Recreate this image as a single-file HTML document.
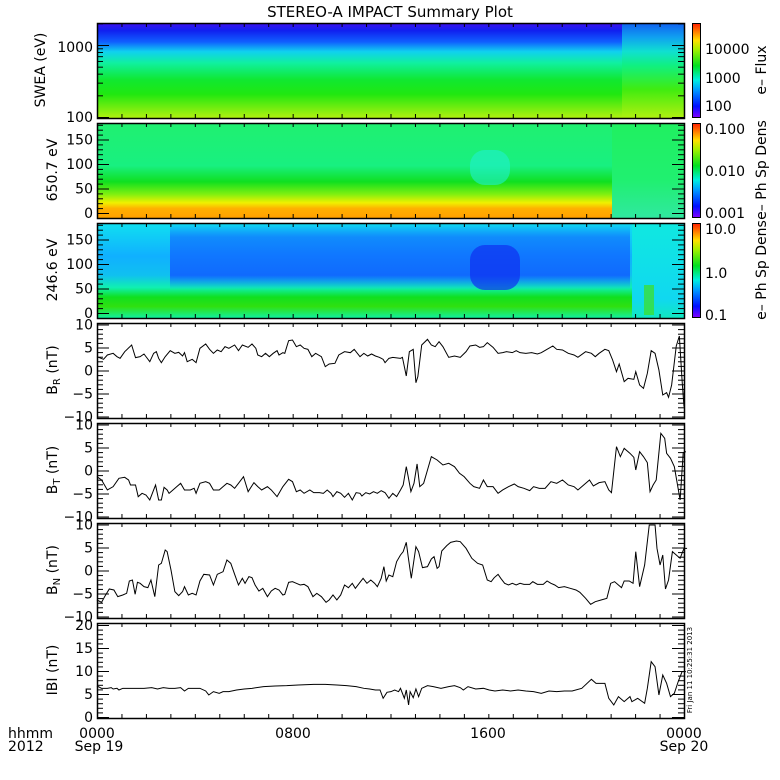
<!DOCTYPE html>
<html><head><meta charset="utf-8"><style>
body{margin:0;background:#fff}
svg{display:block}
text{font-family:"DejaVu Sans","Liberation Sans",sans-serif;font-size:14px;fill:#000}
</style></head><body>
<svg id="s" width="780" height="780" xmlns="http://www.w3.org/2000/svg">
<defs>
<linearGradient id="cb" x1="0" y1="1" x2="0" y2="0">
<stop offset="0" stop-color="#8000ff"/><stop offset="0.12" stop-color="#0010ff"/><stop offset="0.3" stop-color="#00a0ff"/><stop offset="0.4" stop-color="#00f0e0"/><stop offset="0.55" stop-color="#00e020"/><stop offset="0.72" stop-color="#a0f000"/><stop offset="0.82" stop-color="#ffe000"/><stop offset="1" stop-color="#ff2000"/>
</linearGradient>
<linearGradient id="g1" x1="0" y1="0" x2="0" y2="1">
<stop offset="0" stop-color="#4010f0"/><stop offset="0.08" stop-color="#1020f0"/><stop offset="0.2" stop-color="#1060ff"/><stop offset="0.3" stop-color="#10d0f0"/><stop offset="0.42" stop-color="#10f0a0"/><stop offset="0.6" stop-color="#10e830"/><stop offset="0.75" stop-color="#20e810"/><stop offset="1" stop-color="#b0f010"/>
</linearGradient>
<linearGradient id="g1r" x1="0" y1="0" x2="0" y2="1">
<stop offset="0" stop-color="#1060f0"/><stop offset="0.15" stop-color="#10a0f0"/><stop offset="0.3" stop-color="#10e0d0"/><stop offset="0.45" stop-color="#10f080"/><stop offset="0.7" stop-color="#40ec10"/><stop offset="1" stop-color="#b0f010"/>
</linearGradient>
<linearGradient id="g2" x1="0" y1="0" x2="0" y2="1">
<stop offset="0" stop-color="#20f070"/><stop offset="0.45" stop-color="#18f080"/><stop offset="0.62" stop-color="#10e020"/><stop offset="0.75" stop-color="#80f010"/><stop offset="0.84" stop-color="#f0f000"/><stop offset="0.9" stop-color="#ffb000"/><stop offset="1" stop-color="#ffa000"/>
</linearGradient>
<linearGradient id="g2r" x1="0" y1="0" x2="0" y2="1">
<stop offset="0" stop-color="#20f060"/><stop offset="0.6" stop-color="#20f070"/><stop offset="1" stop-color="#30e8a0"/>
</linearGradient>
<linearGradient id="g3" x1="0" y1="0" x2="0" y2="1">
<stop offset="0" stop-color="#10e0f0"/><stop offset="0.35" stop-color="#10b0ff"/><stop offset="0.55" stop-color="#10c0f0"/><stop offset="0.68" stop-color="#10f0b0"/><stop offset="0.78" stop-color="#10e020"/><stop offset="0.88" stop-color="#30e010"/><stop offset="1" stop-color="#10f0a0"/>
</linearGradient>
<linearGradient id="g3b" x1="0" y1="0" x2="0" y2="1">
<stop offset="0" stop-color="#1070ff" stop-opacity="0"/><stop offset="0.15" stop-color="#1070ff" stop-opacity="0.7"/><stop offset="0.55" stop-color="#1060ff" stop-opacity="0.9"/><stop offset="0.7" stop-color="#1080ff" stop-opacity="0"/>
</linearGradient>
<linearGradient id="g3r" x1="0" y1="0" x2="0" y2="1">
<stop offset="0" stop-color="#10e8e0"/><stop offset="0.8" stop-color="#10d8f0"/><stop offset="1" stop-color="#10e8c0"/>
</linearGradient>
</defs>
<text x="390" y="17" text-anchor="middle" style="font-size:15px">STEREO-A IMPACT Summary Plot</text>
<rect x="97" y="23" width="525" height="95" fill="url(#g1)"/>
<rect x="622" y="23" width="62" height="95" fill="url(#g1r)"/>
<rect x="97" y="123" width="515" height="95" fill="url(#g2)"/>
<rect x="612" y="123" width="72" height="95" fill="url(#g2r)"/>
<rect x="470" y="150" width="40" height="35" rx="15" fill="#20f0d0" opacity="0.6"/>
<rect x="97" y="223" width="535" height="95" fill="url(#g3)"/>
<rect x="170" y="223" width="460" height="95" fill="url(#g3b)"/>
<rect x="470" y="245" width="50" height="45" rx="15" fill="#1030f0" opacity="0.7"/>
<rect x="632" y="223" width="52" height="95" fill="url(#g3r)"/>
<rect x="644" y="285" width="10" height="30" fill="#40e020" opacity="0.7"/>
<rect x="692.5" y="23.5" width="8" height="94" fill="url(#cb)" stroke="#000"/>
<rect x="692.5" y="123.5" width="8" height="94" fill="url(#cb)" stroke="#000"/>
<rect x="692.5" y="223.5" width="8" height="94" fill="url(#cb)" stroke="#000"/>
<text x="705" y="54">10000</text><text x="705" y="83">1000</text><text x="705" y="111">100</text>
<text x="705" y="134">0.100</text><text x="705" y="176">0.010</text><text x="705" y="218">0.001</text>
<text x="705" y="234">10.0</text><text x="705" y="278">1.0</text><text x="705" y="320">0.1</text>
<text transform="translate(766,70) rotate(-90)" text-anchor="middle">e– Flux</text>
<text transform="translate(766,170) rotate(-90)" text-anchor="middle">e– Ph Sp Dens</text>
<text transform="translate(766,270) rotate(-90)" text-anchor="middle">e– Ph Sp Dens</text>
<text transform="translate(45,70) rotate(-90)" text-anchor="middle">SWEA (eV)</text>
<text transform="translate(57,170) rotate(-90)" text-anchor="middle">650.7 eV</text>
<text transform="translate(57,270) rotate(-90)" text-anchor="middle">246.6 eV</text>
<text transform="translate(57,370) rotate(-90)" text-anchor="middle">B<tspan style="font-size:10px" dy="3">R</tspan><tspan dy="-3"> (nT)</tspan></text>
<text transform="translate(57,470) rotate(-90)" text-anchor="middle">B<tspan style="font-size:10px" dy="3">T</tspan><tspan dy="-3"> (nT)</tspan></text>
<text transform="translate(57,570) rotate(-90)" text-anchor="middle">B<tspan style="font-size:10px" dy="3">N</tspan><tspan dy="-3"> (nT)</tspan></text>
<text transform="translate(57,670) rotate(-90)" text-anchor="middle">IBI (nT)</text>
<text transform="translate(692,670) rotate(-90)" text-anchor="middle" style="font-size:7px">Fri Jan 11 10:25:31 2013</text>
<text x="8" y="738">hhmm</text><text x="8" y="751">2012</text>
<text x="97" y="738" text-anchor="middle">0000</text><text x="99" y="751" text-anchor="middle">Sep 19</text>
<text x="293" y="738" text-anchor="middle">0800</text>
<text x="488" y="738" text-anchor="middle">1600</text>
<text x="684" y="738" text-anchor="middle">0000</text><text x="684" y="751" text-anchor="middle">Sep 20</text>
<g id="lines" fill="none" stroke="#000" stroke-width="1" >
<polyline vector-effect="non-scaling-stroke" transform="translate(90,320) scale(0.3857,0.3333)" points="18,110 35,118 45,105 60,100 70,110 78,115 90,95 108,75 118,113 130,110 140,102 155,125 165,100 172,95 178,115 185,128 195,110 208,92 220,100 230,97 240,108 245,98 252,125 265,118 275,128 285,85 300,72 310,88 320,100 330,90 340,95 350,80 360,85 375,75 385,92 395,75 410,82 420,72 430,85 435,105 445,110 455,100 465,110 475,100 485,92 490,105 500,98 505,100 515,62 525,60 535,80 545,75 555,85 565,88 575,110 585,100 600,110 610,140 620,132 635,130 645,105 660,95 675,98 685,88 700,110 710,100 720,108 730,102 740,108 750,112 760,118 765,128 775,115 785,112 805,115 810,112 820,168 828,95 838,88 845,188 850,170 860,75 875,58 885,75 895,80 905,65 915,80 930,112 945,108 960,112 975,95 985,78 1000,75 1010,82 1020,80 1030,68 1045,82 1058,100 1070,98 1080,95 1095,98 1105,92 1115,98 1130,100 1145,98 1160,102 1170,98 1185,88 1200,78 1210,88 1225,90 1240,100 1255,105 1265,112 1285,95 1300,100 1310,110 1320,100 1335,88 1345,92 1355,120 1365,155 1372,132 1385,185 1395,175 1410,178 1415,155 1425,195 1435,205 1445,160 1455,92 1465,100 1475,150 1485,225 1495,218 1500,232 1508,195 1520,78 1528,48 1535,180 1540,260"/>
<polyline vector-effect="non-scaling-stroke" transform="translate(90,320) scale(0.3857,0.3333)" points="18,470 30,480 45,510 60,500 75,475 90,472 100,480 105,495 118,495 125,530 135,520 145,525 155,540 165,510 170,495 178,540 185,540 192,502 200,510 205,520 215,510 225,500 235,490 245,510 260,510 270,505 275,520 285,490 300,485 310,490 320,510 335,510 345,500 355,490 365,495 375,505 385,490 398,470 410,515 425,488 435,500 445,510 460,500 470,510 485,530 500,500 515,478 525,485 535,515 545,510 555,520 570,510 580,518 595,518 605,520 615,510 625,520 630,530 640,515 650,520 660,532 670,520 680,540 690,518 700,520 705,528 715,518 725,522 735,515 745,520 755,512 765,518 775,535 785,520 795,530 805,510 812,495 820,440 825,470 832,515 840,490 848,432 855,500 865,490 875,450 885,410 900,420 915,435 930,430 945,440 958,460 970,470 985,490 995,500 1010,505 1020,480 1030,500 1045,500 1058,520 1070,510 1085,500 1100,492 1110,500 1125,505 1140,512 1150,500 1165,505 1180,505 1195,485 1210,490 1225,480 1240,495 1255,500 1265,510 1280,495 1295,480 1305,498 1320,488 1335,485 1345,510 1352,518 1365,380 1375,410 1385,385 1400,400 1410,412 1415,450 1425,395 1435,410 1445,428 1452,515 1460,495 1468,480 1480,340 1490,355 1495,400 1505,415 1515,440 1530,540 1538,398 1545,395"/>
<polyline vector-effect="non-scaling-stroke" transform="translate(90,515) scale(0.3857,0.3333)" points="18,255 30,262 38,245 50,222 62,225 72,245 85,240 95,235 102,198 110,195 117,238 123,202 130,205 140,215 150,218 158,195 168,245 178,150 185,145 195,105 200,110 210,165 220,230 230,242 240,230 245,215 255,240 265,235 275,240 285,198 295,178 310,180 320,210 330,178 345,170 355,135 365,145 375,178 385,210 395,190 402,205 412,185 420,188 428,210 438,228 448,220 460,245 470,228 480,220 490,225 500,240 505,238 515,202 525,200 535,205 545,210 555,208 565,215 578,245 588,235 600,245 612,262 620,255 630,240 640,255 650,240 660,210 670,218 680,205 688,220 698,205 708,190 718,205 728,195 738,205 745,215 755,190 762,155 768,198 775,180 785,185 795,140 805,120 812,110 820,82 825,125 833,190 845,95 852,110 862,158 875,155 885,132 892,125 900,160 905,155 912,108 925,92 935,82 950,78 960,80 975,100 990,130 1005,145 1018,150 1030,195 1040,200 1048,188 1058,178 1065,190 1075,205 1085,210 1095,205 1105,210 1115,205 1125,208 1140,208 1148,200 1160,208 1175,208 1185,198 1195,205 1205,210 1215,218 1230,215 1245,220 1260,225 1270,232 1285,250 1298,268 1310,260 1325,255 1340,250 1350,205 1360,200 1370,210 1378,218 1385,198 1398,198 1408,205 1415,110 1425,215 1438,150 1450,30 1465,30 1470,100 1478,150 1485,120 1492,222 1500,195 1510,110 1520,120 1530,130 1540,100 1548,100"/>
<polyline vector-effect="non-scaling-stroke" transform="translate(90,515) scale(0.3857,0.3333)" points="18,513 30,520 45,520 55,518 60,522 70,520 75,525 85,520 100,520 120,520 140,520 160,518 175,522 190,518 205,520 220,520 235,518 245,528 255,520 270,520 285,520 300,528 308,540 320,530 335,535 345,530 360,530 380,525 400,522 420,520 450,515 480,513 510,512 540,510 580,508 610,508 640,510 665,512 690,515 710,520 725,522 740,525 752,525 760,550 770,532 780,530 790,525 800,530 805,520 815,550 820,525 826,570 830,530 838,548 845,522 852,545 860,520 875,512 890,515 910,520 930,515 945,512 960,518 968,525 980,515 1000,522 1020,520 1035,525 1050,528 1070,525 1090,528 1110,525 1130,528 1150,530 1170,535 1190,528 1210,530 1230,528 1250,528 1275,520 1300,493 1312,505 1335,505 1345,550 1358,570 1370,545 1385,560 1400,545 1405,560 1420,550 1438,565 1445,520 1455,440 1465,455 1475,540 1485,480 1495,505 1505,545 1515,535 1525,500 1535,470 1545,470"/>
</g>
<g id="ax" stroke="#000" fill="none"></g>
</svg>
<script>
(function(){
var NS="http://www.w3.org/2000/svg",ax=document.getElementById('ax'),svg=document.getElementById('s');
function L(x1,y1,x2,y2,w){var l=document.createElementNS(NS,'line');l.setAttribute('x1',x1);l.setAttribute('y1',y1);l.setAttribute('x2',x2);l.setAttribute('y2',y2);l.setAttribute('stroke-width',w||1);ax.appendChild(l);}
function T(x,y,s){var t=document.createElementNS(NS,'text');t.setAttribute('x',x);t.setAttribute('y',y);t.setAttribute('text-anchor','end');t.textContent=s;svg.appendChild(t);}
var X0=97,X1=684;
for(var p=0;p<7;p++){
 var pt=23+100*p,bot=pt+95;
 var r=document.createElementNS(NS,'rect');r.setAttribute('x',X0+0.5);r.setAttribute('y',pt+0.5);r.setAttribute('width',X1-X0);r.setAttribute('height',95);r.setAttribute('stroke-width',1.5);ax.appendChild(r);
 for(var h=1;h<24;h++){var x=X0+(X1-X0)*h/24+0.5;L(x,pt,x,pt+4);L(x,bot,x,bot-4);}
 var y,v,big;
 if(p==0){
  for(var d=100;d<=1000;d*=10)for(var k=1;k<10;k++){v=d*k;y=117-72*(Math.log(v)/Math.LN10-2);if(y<pt)continue;big=(k==1);L(X0,y+0.5,X0+(big?12:6),y+0.5);L(X1,y+0.5,X1-(big?12:6),y+0.5);}
  T(93,52,'1000');T(93,122,'100');}
 else if(p<3){var o=100*(p-1);
  for(v=0;v<=180;v+=10){y=213+o-v*0.49;big=(v%50==0);L(X0,y+0.5,X0+(big?12:6),y+0.5);L(X1,y+0.5,X1-(big?12:6),y+0.5);if(big)T(93,y+5,String(v));}}
 else if(p<6){var c=pt+47.5;
  for(v=-10;v<=10;v++){y=c-v*4.6;big=(v%5==0);L(X0,y+0.5,X0+(big?12:6),y+0.5);L(X1,y+0.5,X1-(big?12:6),y+0.5);if(big)T(93,y+5,String(v).replace('-','\u2212'));}}
 else {
  for(v=0;v<=20;v++){y=bot-1-v*4.6;big=(v%5==0);L(X0,y+0.5,X0+(big?12:6),y+0.5);L(X1,y+0.5,X1-(big?12:6),y+0.5);if(big)T(93,y+5,String(v));}}
}
})();
</script>
</body></html>
